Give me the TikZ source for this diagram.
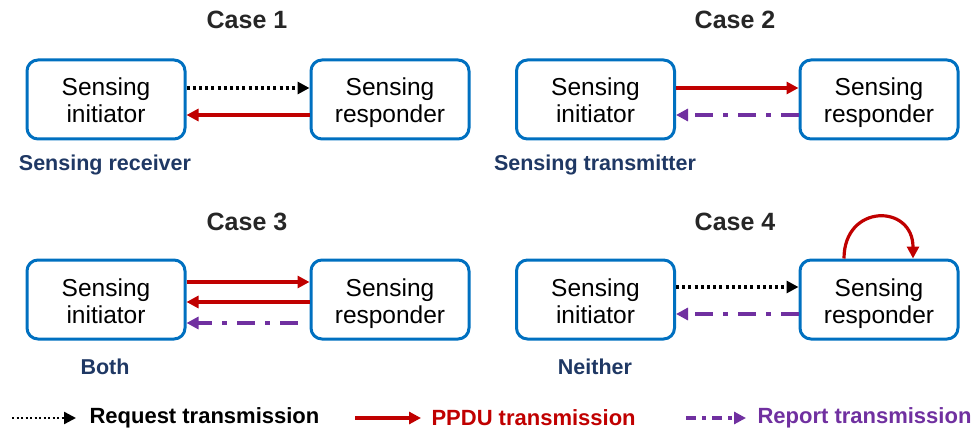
\documentclass[tikz,border=0pt]{standalone}
\usepackage{fontspec}
\setmainfont{Liberation Sans}
\usetikzlibrary{arrows.meta,calc}
\definecolor{boxblue}{RGB}{0,112,192}
\definecolor{pred}{RGB}{192,0,0}
\definecolor{rpurple}{RGB}{112,48,160}
\definecolor{lblue}{RGB}{31,56,100}
\definecolor{ttext}{RGB}{38,38,38}
\newcommand{\twol}[2]{\rule{0pt}{26pt}#1\\#2\rule[-6pt]{0pt}{6pt}}
\tikzset{
  stabox/.style={draw=boxblue,line width=3pt,rounded corners=11pt,minimum width=158pt,minimum height=79pt,align=center,text=black,font=\fontsize{24.5}{27}\selectfont,inner sep=0pt},
  casetitle/.style={font=\fontsize{25}{28}\selectfont\bfseries,text=ttext},
  sublabel/.style={font=\fontsize{21.5}{24}\selectfont\bfseries,text=lblue},
  legtext/.style={font=\fontsize{22}{24}\selectfont\bfseries,anchor=west},
  tip/.style={-{Triangle[length=12pt,width=12pt]}},
  req/.style={tip,black,line width=3.2pt,dash pattern=on 3pt off 3.2pt},
  ppdu/.style={tip,pred,line width=3.2pt},
  rep/.style={tip,rpurple,line width=3.2pt,dash pattern=on 18pt off 10pt on 5pt off 10pt},
}
\begin{document}
\begin{tikzpicture}[x=1pt,y=-1pt]
\useasboundingbox (0,0) rectangle (974,433);
% titles
\node[casetitle] (t1) at (247,20) {Case 1};
\node[casetitle] (t2) at (735,20) {Case 2};
\node[casetitle] (t3) at (247,222) {Case 3};
\node[casetitle] (t4) at (735,222) {Case 4};
% boxes
\node[stabox] (i1) at (106,99.5) {\twol{Sensing}{initiator}};
\node[stabox] (r1) at (390,99.5) {\twol{Sensing}{responder}};
\node[stabox] (i2) at (595.5,99.5) {\twol{Sensing}{initiator}};
\node[stabox] (r2) at (879,99.5) {\twol{Sensing}{responder}};
\node[stabox] (i3) at (106,299.5) {\twol{Sensing}{initiator}};
\node[stabox] (r3) at (390,299.5) {\twol{Sensing}{responder}};
\node[stabox] (i4) at (595.5,299.5) {\twol{Sensing}{initiator}};
\node[stabox] (r4) at (879,299.5) {\twol{Sensing}{responder}};
% sublabels
\node[sublabel] (s1) at (105,165) {Sensing receiver};
\node[sublabel] (s2) at (595,165) {Sensing transmitter};
\node[sublabel] (s3) at (105,367) {Both};
\node[sublabel] (s4) at (595,367) {Neither};
% case 1
\draw[req] ([yshift=11.5pt]i1.east) -- ([yshift=11.5pt]r1.west);
\draw[ppdu] ([yshift=-15.5pt]r1.west) -- ([yshift=-15.5pt]i1.east);
% case 2
\draw[ppdu] ([yshift=11.5pt]i2.east) -- ([yshift=11.5pt]r2.west);
\draw[rep] ([yshift=-15.5pt]r2.west) -- ([yshift=-15.5pt]i2.east);
% case 3
\draw[ppdu] ([yshift=17.5pt]i3.east) -- ([yshift=17.5pt]r3.west);
\draw[ppdu] ([yshift=-2.5pt]r3.west) -- ([yshift=-2.5pt]i3.east);
\draw[rep] ([yshift=-23.5pt,xshift=-12pt]r3.west) -- ([yshift=-23.5pt]i3.east);
% case 4
\draw[req] ([yshift=12.5pt]i4.east) -- ([yshift=12.5pt]r4.west);
\draw[rep] ([yshift=-14.5pt]r4.west) -- ([yshift=-14.5pt]i4.east);
\draw[ppdu] ([xshift=-35pt]r4.north) .. controls +(0,-55) and +(0,-55) .. ([xshift=34pt]r4.north);
% legend
\coordinate (la1) at (12,418); \coordinate (lb1) at (76,418);
\coordinate (la2) at (355,418); \coordinate (lb2) at (421,418);
\coordinate (la3) at (686,418); \coordinate (lb3) at (746,418);
\draw[req,line width=2.4pt,dash pattern=on 2pt off 2.5pt] (la1) -- (lb1);
\draw[ppdu] (la2) -- (lb2);
\draw[rep,dash pattern=on 10pt off 6pt on 4pt off 6pt] (la3) -- (lb3);
\node[legtext,text=black] (lt1) at (86,418) {Request transmission};
\node[legtext,text=pred] (lt2) at (428,418) {PPDU transmission};
\node[legtext,text=rpurple] (lt3) at (754,418) {Report transmission};
\end{tikzpicture}
\end{document}
